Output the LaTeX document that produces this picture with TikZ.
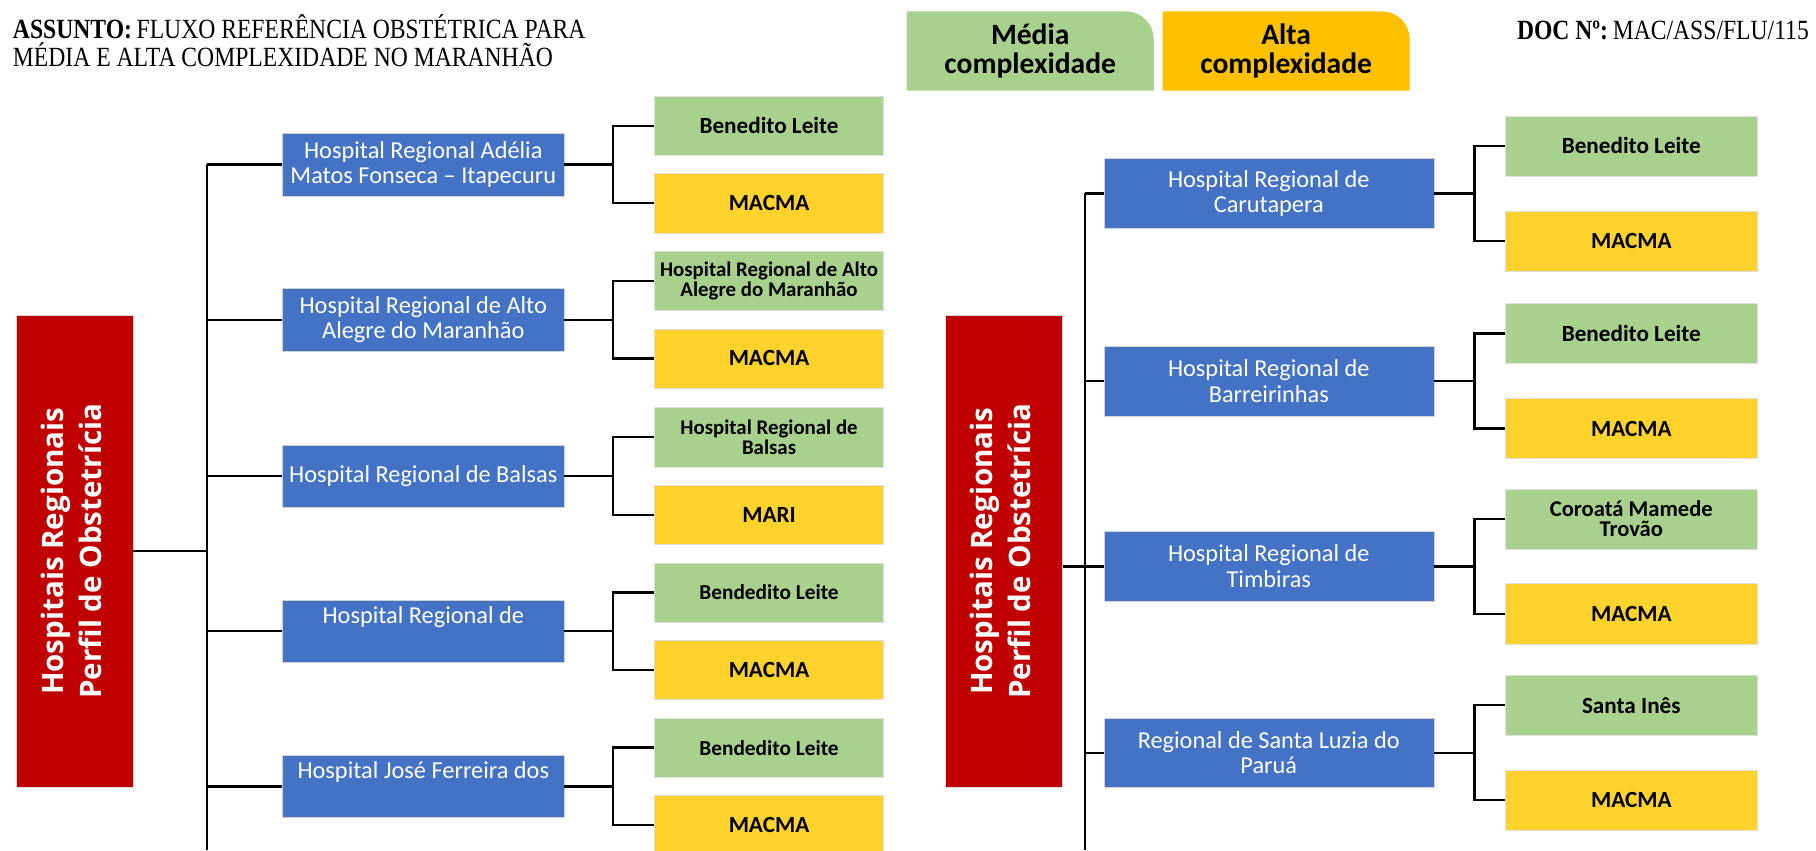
\documentclass[tikz,border=0pt]{standalone}
\usepackage{fontspec}
\setmainfont{Liberation Serif}[FakeStretch=0.85]
\newfontfamily\calibrifont{Carlito}
\newfontfamily\perfilfont{Open Sans}
\usetikzlibrary{positioning, calc, backgrounds}
\definecolor{hospblue}{HTML}{4472C4}
\definecolor{mediagreen}{HTML}{A9D18E}
\definecolor{altayellow}{HTML}{FFD32B}
\definecolor{altatab}{HTML}{FFC000}
\definecolor{perfilred}{HTML}{C00000}
\tikzset{
        perfil-box/.style={
            rectangle, fill=perfilred, draw=gray!30, text=white,
            minimum width=101pt, minimum height=408pt, inner sep=0pt,
            font=\perfilfont\bfseries\fontsize{25.5}{33}\selectfont
        },
        hospital-box/.style={
            rectangle, fill=hospblue, draw=gray!35, text=white, align=center,
            minimum width=243pt, minimum height=54pt, inner sep=1pt,
            font=\calibrifont\fontsize{21}{22}\selectfont
        },
        hospital-wide/.style={hospital-box, minimum width=285pt, minimum height=60pt},
        media-box/.style={
            rectangle, fill=mediagreen, draw=gray!25, text=black, align=center,
            minimum width=198pt, minimum height=51pt, inner sep=1pt,
            font=\calibrifont\bfseries\fontsize{20}{18}\selectfont
        },
        media-wide/.style={media-box, minimum width=217pt, minimum height=52pt},
        alta-box/.style={media-box, fill=altayellow},
        alta-wide/.style={media-wide, fill=altayellow},
        tab-label/.style={
            minimum width=213pt, minimum height=68pt, align=center, inner sep=0pt,
            font=\calibrifont\bfseries\fontsize{25.5}{25}\selectfont
        },
        small-dest/.style={font=\calibrifont\bfseries\fontsize{18}{17}\selectfont},
        link/.style={line width=2pt, black}
}

\begin{document}
\begin{tikzpicture}[x=1pt, y=-1pt]

        \useasboundingbox (0,0) rectangle (1568,734);
        \coordinate (BOTTOM) at (0,734);

        % HEADER
        \node[anchor=north west, align=left, inner sep=0pt,
              font=\fontsize{24}{25}\selectfont] (ASSUNTO) at (11,12)
              {\textbf{ASSUNTO:}\,FLUXO REFERÊNCIA OBSTÉTRICA PARA\\MÉDIA E ALTA COMPLEXIDADE NO MARANHÃO};
        \node[anchor=north east, inner sep=0pt,
              font=\fontsize{24}{25}\selectfont] (DOC) at (1562,18)
              {\textbf{DOC Nº:}\,MAC/ASS/FLU/115};
        \node[tab-label] (TABMED) at (889.5,44)  {Média\\complexidade};
        \node[tab-label] (TABALT) at (1110.5,44) {Alta\\complexidade};
        \begin{scope}[on background layer]
            \fill[mediagreen] (TABMED.south west) -- (TABMED.north west) -- ([xshift=-24pt]TABMED.north east)
                arc[start angle=90, end angle=0, radius=24pt] -- (TABMED.south east) -- cycle;
            \fill[altatab] (TABALT.south west) -- (TABALT.north west) -- ([xshift=-24pt]TABALT.north east)
                arc[start angle=90, end angle=0, radius=24pt] -- (TABALT.south east) -- cycle;
        \end{scope}

        % LEFT TREE NODES (relative to the red box)
        \node[perfil-box] (HOSPL) at (64.5,476)
              {\rotatebox{90}{\begin{tabular}{@{}c@{}}Hospitais Regionais\\Perfil de Obstetrícia\end{tabular}}};
        \node[hospital-box] (HRL1) at ($(HOSPL)+(301,-334)$) {Hospital Regional Adélia\\Matos Fonseca – Itapecuru};
        \node[hospital-box] (HRL2) at ($(HOSPL)+(301,-200)$) {Hospital Regional de Alto\\Alegre do Maranhão};
        \node[hospital-box] (HRL3) at ($(HOSPL)+(301,-65)$)  {Hospital Regional de Balsas};
        \node[hospital-box] (HRL4) at ($(HOSPL)+(301,69)$)   {Hospital Regional de\\\strut};
        \node[hospital-box] (HRL5) at ($(HOSPL)+(301,203)$)  {Hospital José Ferreira dos\\\strut};

        \node[media-box]             (MEDL1) at ($(HRL1)+(298.5,-33.5)$) {Benedito Leite};
        \node[alta-box]              (ALTL1) at ($(HRL1)+(298.5,33.5)$)  {MACMA};
        \node[media-box, small-dest] (MEDL2) at ($(HRL2)+(298.5,-33.5)$) {Hospital Regional de Alto\\Alegre do Maranhão};
        \node[alta-box]              (ALTL2) at ($(HRL2)+(298.5,33.5)$)  {MACMA};
        \node[media-box, small-dest] (MEDL3) at ($(HRL3)+(298.5,-33.5)$) {Hospital Regional de\\Balsas};
        \node[alta-box]              (ALTL3) at ($(HRL3)+(298.5,33.5)$)  {MARI};
        \node[media-box, font=\calibrifont\bfseries\fontsize{18.4}{18}\selectfont]
                                     (MEDL4) at ($(HRL4)+(298.5,-33.5)$) {Bendedito Leite};
        \node[alta-box]              (ALTL4) at ($(HRL4)+(298.5,33.5)$)  {MACMA};
        \node[media-box, font=\calibrifont\bfseries\fontsize{18.4}{18}\selectfont]
                                     (MEDL5) at ($(HRL5)+(298.5,-33.5)$) {Bendedito Leite};
        \node[alta-box]              (ALTL5) at ($(HRL5)+(298.5,33.5)$)  {MACMA};

        % RIGHT TREE NODES (relative to the red box)
        \node[perfil-box] (HOSPR) at (867,476)
              {\rotatebox{90}{\begin{tabular}{@{}c@{}}Hospitais Regionais\\Perfil de Obstetrícia\end{tabular}}};
        \node[hospital-wide] (HRR1) at ($(HOSPR)+(228.5,-309)$) {Hospital Regional de\\Carutapera};
        \node[hospital-wide] (HRR2) at ($(HOSPR)+(228.5,-147)$) {Hospital Regional de\\Barreirinhas};
        \node[hospital-wide] (HRR3) at ($(HOSPR)+(228.5,13)$)   {Hospital Regional de\\Timbiras};
        \node[hospital-wide] (HRR4) at ($(HOSPR)+(228.5,174)$)  {Regional de Santa Luzia do\\Paruá};

        \node[media-wide] (MEDR1) at ($(HRR1)+(313,-41)$) {Benedito Leite};
        \node[alta-wide]  (ALTR1) at ($(HRR1)+(313,41)$)  {MACMA};
        \node[media-wide] (MEDR2) at ($(HRR2)+(313,-41)$) {Benedito Leite};
        \node[alta-wide]  (ALTR2) at ($(HRR2)+(313,41)$)  {MACMA};
        \node[media-wide, font=\calibrifont\bfseries\fontsize{19.5}{17.5}\selectfont]
                          (MEDR3) at ($(HRR3)+(313,-41)$) {Coroatá Mamede\\Trovão};
        \node[alta-wide]  (ALTR3) at ($(HRR3)+(313,41)$)  {MACMA};
        \node[media-wide] (MEDR4) at ($(HRR4)+(313,-41)$) {Santa Inês};
        \node[alta-wide]  (ALTR4) at ($(HRR4)+(313,41)$)  {MACMA};

        % CONNECT LEFT TRUNK
        \coordinate (TRUNKL) at ($(HRL1.west)+(-65,0)$);
        \draw[link] (TRUNKL) -- (TRUNKL |- BOTTOM);
        \draw[link] (HOSPL.east) -- (HOSPL.east -| TRUNKL);
        \draw[link] (TRUNKL) -- (HRL1.west);
        \draw[link] (TRUNKL |- HRL2) -- (HRL2.west);
        \draw[link] (TRUNKL |- HRL3) -- (HRL3.west);
        \draw[link] (TRUNKL |- HRL4) -- (HRL4.west);
        \draw[link] (TRUNKL |- HRL5) -- (HRL5.west);

        % CONNECT LEFT DESTINATIONS
        \draw[link] (HRL1.east) -- ++(42,0) |- (MEDL1.west);
        \draw[link] (HRL1.east) -- ++(42,0) |- (ALTL1.west);
        \draw[link] (HRL2.east) -- ++(42,0) |- (MEDL2.west);
        \draw[link] (HRL2.east) -- ++(42,0) |- (ALTL2.west);
        \draw[link] (HRL3.east) -- ++(42,0) |- (MEDL3.west);
        \draw[link] (HRL3.east) -- ++(42,0) |- (ALTL3.west);
        \draw[link] (HRL4.east) -- ++(42,0) |- (MEDL4.west);
        \draw[link] (HRL4.east) -- ++(42,0) |- (ALTL4.west);
        \draw[link] (HRL5.east) -- ++(42,0) |- (MEDL5.west);
        \draw[link] (HRL5.east) -- ++(42,0) |- (ALTL5.west);

        % CONNECT RIGHT TRUNK
        \coordinate (TRUNKR) at ($(HRR1.west)+(-16,0)$);
        \draw[link] (TRUNKR) -- (TRUNKR |- BOTTOM);
        \draw[link] (HOSPR.east |- HRR3) -- (HRR3.west);
        \draw[link] (TRUNKR) -- (HRR1.west);
        \draw[link] (TRUNKR |- HRR2) -- (HRR2.west);
        \draw[link] (TRUNKR |- HRR4) -- (HRR4.west);

        % CONNECT RIGHT DESTINATIONS
        \draw[link] (HRR1.east) -- ++(35,0) |- (MEDR1.west);
        \draw[link] (HRR1.east) -- ++(35,0) |- (ALTR1.west);
        \draw[link] (HRR2.east) -- ++(35,0) |- (MEDR2.west);
        \draw[link] (HRR2.east) -- ++(35,0) |- (ALTR2.west);
        \draw[link] (HRR3.east) -- ++(35,0) |- (MEDR3.west);
        \draw[link] (HRR3.east) -- ++(35,0) |- (ALTR3.west);
        \draw[link] (HRR4.east) -- ++(35,0) |- (MEDR4.west);
        \draw[link] (HRR4.east) -- ++(35,0) |- (ALTR4.west);

\end{tikzpicture}
\end{document}
